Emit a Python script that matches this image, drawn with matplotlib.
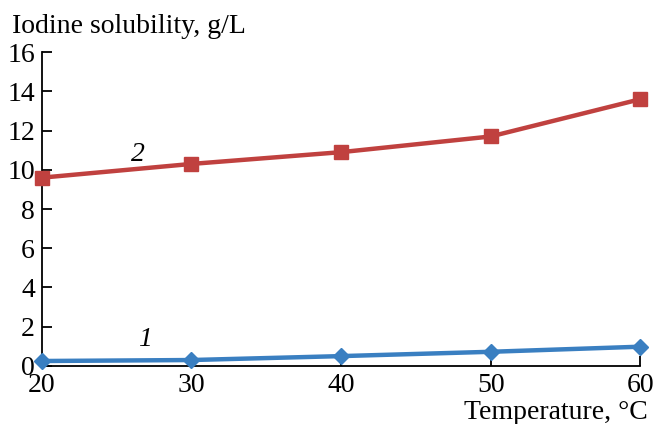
import matplotlib
matplotlib.use("Agg")
import matplotlib.pyplot as plt

temperature = [20, 30, 40, 50, 60]
solubility_1 = [0.25, 0.30, 0.50, 0.72, 0.98]
solubility_2 = [9.6, 10.3, 10.9, 11.7, 13.6]

x_ticks = [20, 30, 40, 50, 60]
y_ticks = [0, 2, 4, 6, 8, 10, 12, 14, 16]

BLUE = "#3A7FC1"
RED = "#C0413F"

plt.rcParams["font.family"] = ["Liberation Serif", "DejaVu Serif"]

fig = plt.figure(figsize=(6.54, 4.24), dpi=100)
ax = fig.add_axes([0.064, 0.137, 0.915, 0.740])

ax.plot(temperature, solubility_1, color=BLUE, lw=3.2, marker="D", ms=8,
        clip_on=False, zorder=3)
ax.plot(temperature, solubility_2, color=RED, lw=3.2, marker="s", ms=10,
        clip_on=False, zorder=3)

ax.text(26.9, 1.35, "1", fontsize=20, style="italic", ha="center", va="center")
ax.text(26.4, 10.8, "2", fontsize=20, style="italic", ha="center", va="center")

ax.set_xlim(20, 60)
ax.set_ylim(0, 16)
ax.set_xticks(x_ticks)
ax.set_yticks(y_ticks)
ax.tick_params(direction="in", length=7, width=1.3, labelsize=20)
ax.tick_params(axis="x", pad=5)
ax.tick_params(axis="y", pad=5)
for side in ("top", "right"):
    ax.spines[side].set_visible(False)
for side in ("left", "bottom"):
    ax.spines[side].set_linewidth(1.3)

fig.text(0.018, 0.922, "Iodine solubility, g/L", fontsize=20, ha="left", va="baseline")
fig.text(0.99, 0.012, "Temperature, °C", fontsize=20, ha="right", va="baseline")

fig.savefig("out.png", dpi=100)
